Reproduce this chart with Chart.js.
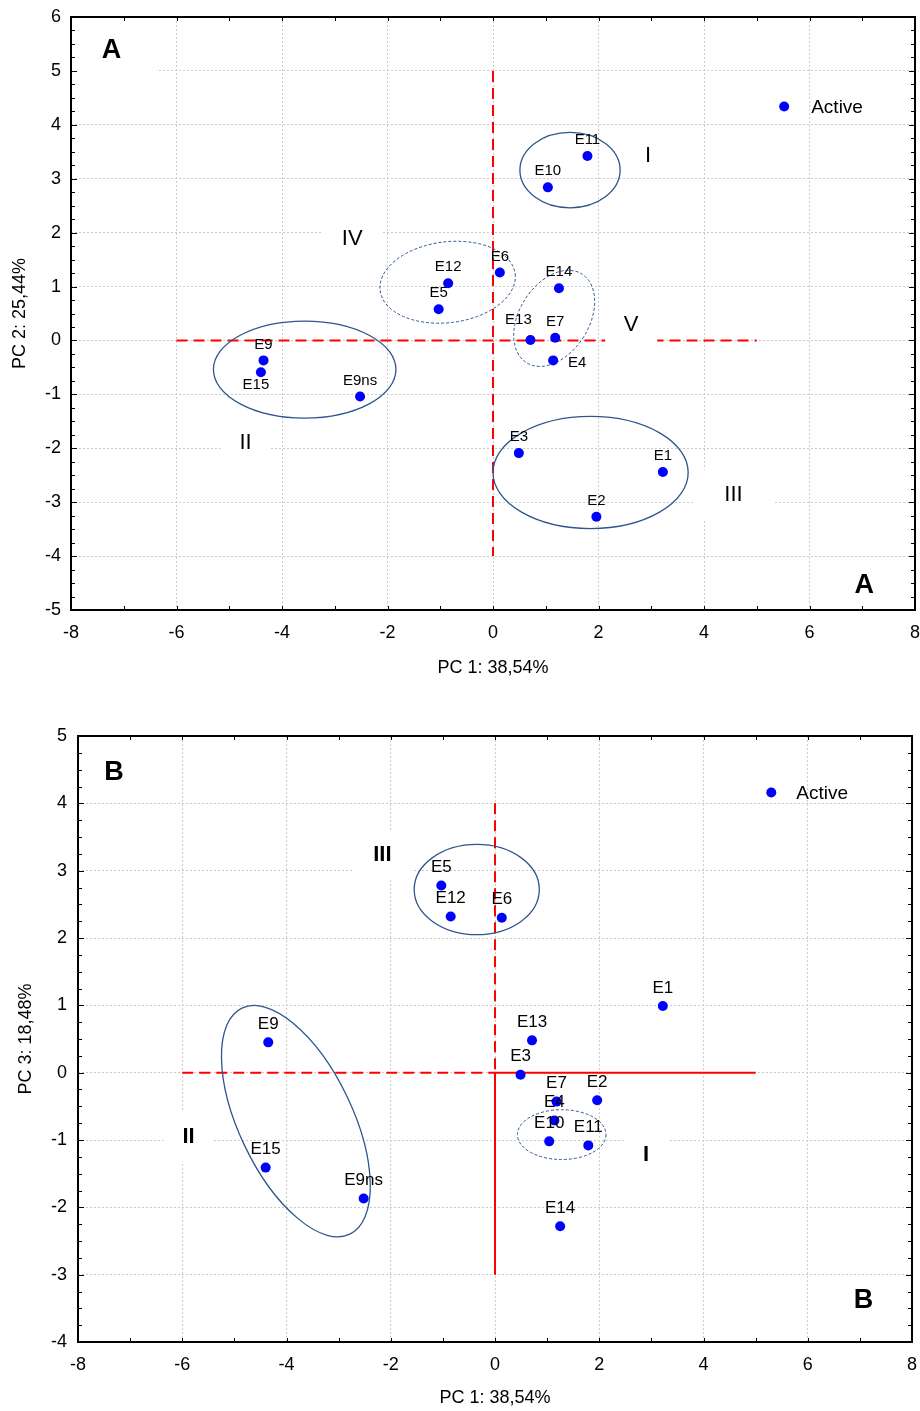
<!DOCTYPE html>
<html>
<head>
<meta charset="utf-8">
<script src="https://cdn.jsdelivr.net/npm/chart.js@4.4.1/dist/chart.umd.min.js"></script>
<style>
    body { margin: 0; background: #fff; }
    canvas { display: block; }
</style>
</head>
<body>
<canvas id="chartA" width="920" height="690"></canvas>
<canvas id="chartB" width="920" height="721"></canvas>
<script>
// Названия образцов и координаты главных компонент
const sampleNames = ['E1', 'E2', 'E3', 'E4', 'E5', 'E6', 'E7', 'E9', 'E9ns', 'E10', 'E11', 'E12', 'E13', 'E14', 'E15'];
const pc1Values = [3.22, 1.96, 0.49, 1.14, -1.03, 0.13, 1.18, -4.35, -2.52, 1.04, 1.79, -0.85, 0.71, 1.25, -4.40];
const pc2Values = [-2.44, -3.27, -2.09, -0.37, 0.58, 1.26, 0.05, -0.37, -1.04, 2.84, 3.42, 1.06, 0.01, 0.97, -0.59];
const pc3Values = [0.99, -0.41, -0.03, -0.71, 2.78, 2.30, -0.43, 0.45, -1.87, -1.02, -1.08, 2.32, 0.48, -2.28, -1.41];

// Деления осей
const pc1Ticks = [-8, -6, -4, -2, 0, 2, 4, 6, 8];
const pc2Ticks = [-5, -4, -3, -2, -1, 0, 1, 2, 3, 4, 5, 6];
const pc3Ticks = [-4, -3, -2, -1, 0, 1, 2, 3, 4, 5];

const FONT = 'Arial, "Liberation Sans", sans-serif';
const ELLIPSE_COLOR = '#2e568c';

// Оформление верхнего графика (A)
const decorA = {
    lines: [
        { from: [0, 5], to: [0, -4], dashed: true },
        { from: [-6, 0], to: [5, 0], dashed: true }
    ],
    ellipses: [
        { cx: 1.46, cy: 3.16, rx: 0.95, ry: 0.70, rot: 0, dashed: false },
        { cx: -0.86, cy: 1.08, rx: 1.29, ry: 0.75, rot: -7, dashed: true },
        { cx: 1.16, cy: 0.41, rx: 0.66, ry: 0.97, rot: 32, dashed: true },
        { cx: -3.57, cy: -0.54, rx: 1.73, ry: 0.90, rot: 0, dashed: false },
        { cx: 1.85, cy: -2.45, rx: 1.85, ry: 1.04, rot: 0, dashed: false }
    ],
    groups: [
        { text: 'A', x: -7.23, y: 5.37, bold: true, size: 27, w: 90, h: 60 },
        { text: 'A', x: 7.04, y: -4.55, bold: true, size: 27, w: 50, h: 44 },
        { text: 'I', x: 2.94, y: 3.42, bold: false, size: 22, w: 36, h: 40 },
        { text: 'IV', x: -2.67, y: 1.89, bold: false, size: 22, w: 60, h: 44 },
        { text: 'V', x: 2.62, y: 0.29, bold: false, size: 22, w: 52, h: 44 },
        { text: 'II', x: -4.69, y: -1.91, bold: false, size: 22, w: 50, h: 44 },
        { text: 'III', x: 4.56, y: -2.86, bold: false, size: 22, w: 80, h: 50 }
    ],
    legend: { x: 5.52, y: 4.34, gap: 27 },
    labelSize: 15,
    labelOffset: [0, -16],
    labelShift: { E13: [-12, -20], E4: [24, 2], E15: [-5, 13] }
};

// Оформление нижнего графика (B)
const decorB = {
    lines: [
        { from: [0, 4], to: [0, 0], dashed: true },
        { from: [0, 0], to: [0, -3], dashed: false },
        { from: [-6, 0], to: [0, 0], dashed: true },
        { from: [0, 0], to: [5, 0], dashed: false }
    ],
    ellipses: [
        { cx: -0.35, cy: 2.72, rx: 1.20, ry: 0.67, rot: 0, dashed: false },
        { cx: 1.28, cy: -0.92, rx: 0.85, ry: 0.37, rot: 0, dashed: true },
        { cx: -3.82, cy: -0.72, rx: 1.09, ry: 1.86, rot: -25.5, dashed: false }
    ],
    groups: [
        { text: 'B', x: -7.31, y: 4.45, bold: true, size: 27, w: 50, h: 44 },
        { text: 'B', x: 7.07, y: -3.39, bold: true, size: 27, w: 50, h: 44 },
        { text: 'III', x: -2.16, y: 3.23, bold: true, size: 22, w: 58, h: 48 },
        { text: 'II', x: -5.88, y: -0.95, bold: true, size: 22, w: 50, h: 50 },
        { text: 'I', x: 2.90, y: -1.22, bold: true, size: 22, w: 45, h: 45 }
    ],
    legend: { x: 5.30, y: 4.16, gap: 25 },
    labelSize: 17,
    labelOffset: [0, -18],
    labelShift: {}
};

// Плагин: линии, эллипсы, подписи групп, рамка с засечками
const pcaDecor = {
    id: 'pcaDecor',
    beforeDatasetsDraw(chart, args, opts) {
        const { ctx, chartArea: a, scales: { x, y } } = chart;
        ctx.save();
        ctx.beginPath();
        ctx.rect(a.left, a.top, a.right - a.left, a.bottom - a.top);
        ctx.clip();

        // красные оси
        opts.lines.forEach(l => {
            ctx.beginPath();
            ctx.strokeStyle = '#ff0000';
            ctx.lineWidth = 2;
            ctx.setLineDash(l.dashed ? [11, 6] : []);
            ctx.moveTo(x.getPixelForValue(l.from[0]), y.getPixelForValue(l.from[1]));
            ctx.lineTo(x.getPixelForValue(l.to[0]), y.getPixelForValue(l.to[1]));
            ctx.stroke();
        });
        ctx.setLineDash([]);

        // белые подложки под подписями групп
        ctx.fillStyle = '#fff';
        opts.groups.forEach(g => {
            const px = x.getPixelForValue(g.x);
            const py = y.getPixelForValue(g.y);
            ctx.fillRect(px - g.w / 2, py - g.h / 2, g.w, g.h);
        });

        // эллипсы групп
        opts.ellipses.forEach(e => {
            const px = x.getPixelForValue(e.cx);
            const py = y.getPixelForValue(e.cy);
            const rx = Math.abs(x.getPixelForValue(e.cx + e.rx) - px);
            const ry = Math.abs(y.getPixelForValue(e.cy + e.ry) - py);
            ctx.beginPath();
            ctx.strokeStyle = ELLIPSE_COLOR;
            ctx.lineWidth = e.dashed ? 1 : 1.3;
            ctx.setLineDash(e.dashed ? [3, 2] : []);
            ctx.ellipse(px, py, rx, ry, e.rot * Math.PI / 180, 0, Math.PI * 2);
            ctx.stroke();
        });
        ctx.setLineDash([]);

        // подписи групп
        ctx.fillStyle = '#000';
        ctx.textAlign = 'center';
        ctx.textBaseline = 'middle';
        opts.groups.forEach(g => {
            ctx.font = (g.bold ? 'bold ' : '') + g.size + 'px ' + FONT;
            ctx.fillText(g.text, x.getPixelForValue(g.x), y.getPixelForValue(g.y));
        });
        ctx.restore();
    },
    afterDatasetsDraw(chart, args, opts) {
        const { ctx, scales: { x, y } } = chart;
        const meta = chart.getDatasetMeta(0);
        ctx.save();
        ctx.fillStyle = '#000';
        ctx.textAlign = 'center';
        ctx.textBaseline = 'middle';
        ctx.font = opts.labelSize + 'px ' + FONT;
        meta.data.forEach((pt, i) => {
            const name = sampleNames[i];
            const off = opts.labelShift[name] || opts.labelOffset;
            ctx.fillText(name, pt.x + off[0], pt.y + off[1]);
        });

        // легенда внутри области графика
        const lx = x.getPixelForValue(opts.legend.x);
        const ly = y.getPixelForValue(opts.legend.y);
        ctx.beginPath();
        ctx.fillStyle = '#0000ff';
        ctx.arc(lx, ly, 5, 0, Math.PI * 2);
        ctx.fill();
        ctx.fillStyle = '#000';
        ctx.textAlign = 'left';
        ctx.font = '19px ' + FONT;
        ctx.fillText('Active', lx + opts.legend.gap, ly + 1);
        ctx.restore();
    },
    afterDraw(chart) {
        const { ctx, chartArea: a, scales: { x, y } } = chart;
        ctx.save();
        ctx.strokeStyle = '#000';
        ctx.lineWidth = 1;
        ctx.beginPath();
        // засечки по оси X через 1
        for (let v = x.min; v <= x.max; v += 1) {
            const px = Math.round(x.getPixelForValue(v)) + 0.5;
            ctx.moveTo(px, a.bottom);
            ctx.lineTo(px, a.bottom - 4);
            ctx.moveTo(px, a.top);
            ctx.lineTo(px, a.top + 4);
        }
        // засечки по оси Y через 0.25
        for (let v = y.min; v <= y.max + 0.001; v += 0.25) {
            const py = Math.round(y.getPixelForValue(v)) + 0.5;
            const len = Math.abs(v - Math.round(v)) < 0.01 ? 6 : 4;
            ctx.moveTo(a.left, py);
            ctx.lineTo(a.left + len, py);
            ctx.moveTo(a.right, py);
            ctx.lineTo(a.right - len, py);
        }
        ctx.stroke();
        ctx.lineWidth = 2;
        ctx.strokeRect(a.left, a.top, a.right - a.left, a.bottom - a.top);
        ctx.restore();
    }
};

// Сборка конфигурации одного графика
function makeChart(canvasId, yValues, yTicks, yTitle, decor, layoutCfg) {
    const ctx = document.getElementById(canvasId).getContext('2d');
    const points = sampleNames.map((n, i) => ({ x: pc1Values[i], y: yValues[i] }));

    return new Chart(ctx, {
        type: 'scatter',
        data: {
            datasets: [{
                label: 'Active',
                data: points,
                pointRadius: 5,
                pointBackgroundColor: '#0000ff',
                pointBorderWidth: 0,
                showLine: false
            }]
        },
        options: {
            responsive: false,
            animation: false,
            layout: { padding: layoutCfg.padding },
            scales: {
                x: {
                    type: 'linear',
                    min: pc1Ticks[0],
                    max: pc1Ticks[pc1Ticks.length - 1],
                    afterBuildTicks: s => { s.ticks = pc1Ticks.map(v => ({ value: v })); },
                    afterFit: s => {
                        s.height = layoutCfg.xHeight;
                        s.paddingLeft = 0;
                        s.paddingRight = 0;
                    },
                    ticks: { font: { size: 18 }, color: '#000', padding: 12, maxRotation: 0, autoSkip: false },
                    grid: { color: '#cacaca', lineWidth: 1, drawTicks: false },
                    border: { display: false, dash: [2, 2] },
                    title: {
                        display: true,
                        text: 'PC 1: 38,54%',
                        font: { size: 18 },
                        color: '#000',
                        padding: { top: 0, bottom: layoutCfg.xTitlePad }
                    }
                },
                y: {
                    type: 'linear',
                    min: yTicks[0],
                    max: yTicks[yTicks.length - 1],
                    afterBuildTicks: s => { s.ticks = yTicks.map(v => ({ value: v })); },
                    afterFit: s => {
                        s.width = layoutCfg.yWidth;
                        s.paddingTop = 0;
                        s.paddingBottom = 0;
                    },
                    ticks: { font: { size: 18 }, color: '#000', padding: layoutCfg.yTickPad, autoSkip: false },
                    grid: { color: '#cacaca', lineWidth: 1, drawTicks: false },
                    border: { display: false, dash: [2, 2] },
                    title: {
                        display: true,
                        text: yTitle,
                        font: { size: 18 },
                        color: '#000',
                        padding: { top: layoutCfg.yTitlePad, bottom: 0 }
                    }
                }
            },
            plugins: {
                legend: { display: false },
                tooltip: { enabled: false },
                pcaDecor: decor
            }
        },
        plugins: [pcaDecor]
    });
}

document.addEventListener('DOMContentLoaded', function() {
    Chart.defaults.font.family = FONT;
    Chart.defaults.color = '#000';

    makeChart('chartA', pc2Values, pc2Ticks, 'PC 2: 25,44%', decorA, {
        padding: { top: 17, right: 4, left: 0, bottom: 0 },
        xHeight: 80, yWidth: 71, xTitlePad: 11, yTitlePad: 9, yTickPad: 10
    });
    makeChart('chartB', pc3Values, pc3Ticks, 'PC 3: 18,48%', decorB, {
        padding: { top: 46, right: 8, left: 0, bottom: 0 },
        xHeight: 69, yWidth: 78, xTitlePad: 2, yTitlePad: 15, yTickPad: 11
    });
});
</script>
</body>
</html>
